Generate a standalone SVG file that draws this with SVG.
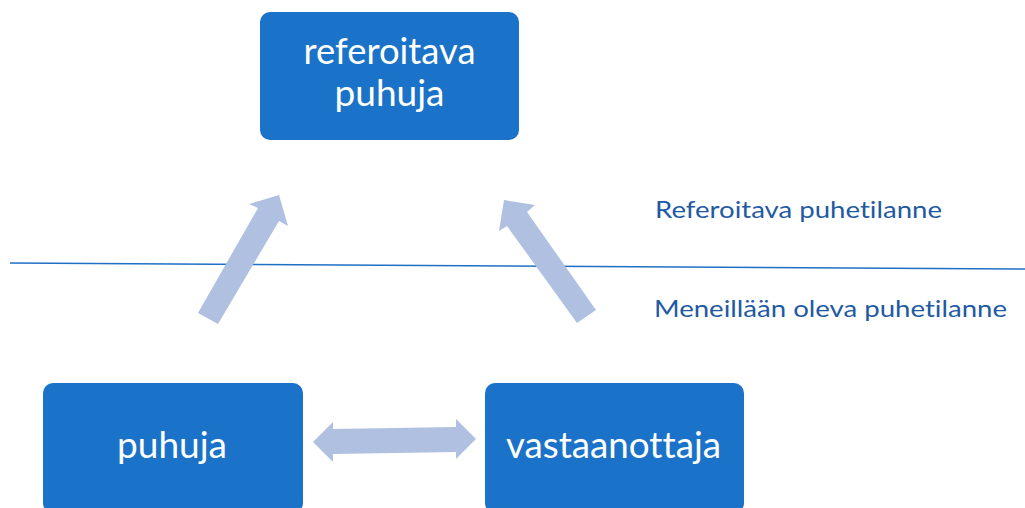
<svg xmlns="http://www.w3.org/2000/svg" width="1025" height="508" viewBox="0 0 1025 508">
<style>
.box{fill:#1a73c8;}
.bt{fill:#ffffff;font-family:Lato,"Open Sans",sans-serif;text-anchor:middle;font-size:36px;font-variant-ligatures:none;}
.lbl{fill:#1f5aa3;font-family:Lato,"Open Sans",sans-serif;font-size:24px;font-variant-ligatures:none;}
.arr{fill:#afc0e1;}
</style>
<rect width="1025" height="508" fill="#ffffff"/>
<g id="connectors">
<line x1="10" y1="263" x2="1025" y2="269" stroke="#1f6fc5" stroke-width="1.5"/>
<polygon class="arr" points="198,313 258,208 249,204 279,195 288,226 279,221 218,324"/>
<polygon class="arr" points="596,310 527,212 535,205 504,200 499,231 507,226 577,323"/>
<polygon class="arr" points="313,442 333,422 333,429 456,427 456,419 476,439 456,459 456,452 333,454 333,462"/>
</g>
<g id="node-referoitava">
<rect class="box" x="260" y="12" width="259" height="128" rx="10"/>
<text class="bt" x="389.5" y="64" textLength="172" lengthAdjust="spacingAndGlyphs">referoitava</text>
<text class="bt" x="389.5" y="106" textLength="110" lengthAdjust="spacingAndGlyphs">puhuja</text>
</g>
<g id="node-puhuja">
<rect class="box" x="43" y="383" width="260" height="130" rx="10"/>
<text class="bt" x="172" y="458" textLength="110" lengthAdjust="spacingAndGlyphs">puhuja</text>
</g>
<g id="node-vastaanottaja">
<rect class="box" x="485" y="383" width="259" height="130" rx="10"/>
<text class="bt" x="613.5" y="458" textLength="215" lengthAdjust="spacingAndGlyphs">vastaanottaja</text>
</g>
<g id="labels">
<text class="lbl" x="655" y="218" textLength="287" lengthAdjust="spacingAndGlyphs">Referoitava puhetilanne</text>
<text class="lbl" x="654" y="317" textLength="353" lengthAdjust="spacingAndGlyphs">Meneillään oleva puhetilanne</text>
</g>
</svg>
